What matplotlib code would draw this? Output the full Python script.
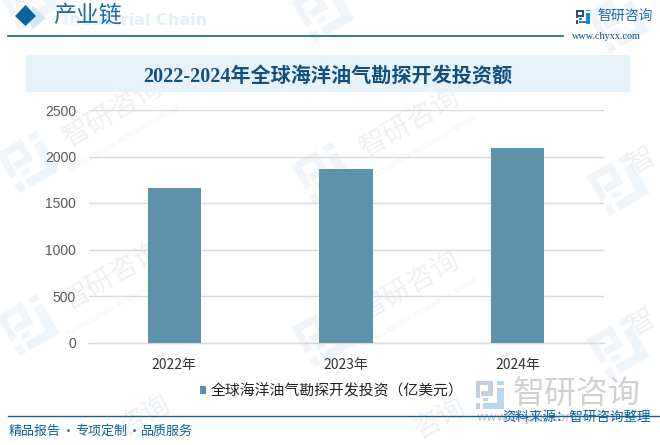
import matplotlib
matplotlib.use("Agg")
import matplotlib.pyplot as plt
from matplotlib.patches import Polygon, Rectangle
from matplotlib.transforms import Affine2D

CJK = ["Noto Sans CJK SC", "DejaVu Sans"]
SERIF = ["Liberation Serif", "Noto Sans CJK SC"]
SANS = ["Liberation Sans", "Noto Sans CJK SC"]
BLUE = "#0b629c"
DARK = "#14507e"

years = ["2022年", "2023年", "2024年"]
values = [1661, 1865, 2091]
yticks = [0, 500, 1000, 1500, 2000, 2500]
series_name = "全球海洋油气勘探开发投资（亿美元）"
title = "2022-2024年全球海洋油气勘探开发投资额"
W, H = 660, 445

plt.rcParams["font.family"] = CJK
fig = plt.figure(figsize=(W / 100, H / 100), dpi=100, facecolor="white")

# pixel overlay for header, footer and watermark
bg = fig.add_axes([0, 0, 1, 1], zorder=0)
bg.set_xlim(0, W); bg.set_ylim(H, 0); bg.axis("off")

# company mark in unit coords, (x, y, w, h)
MARK_A = [(0, 0, .62, .16), (.46, 0, .16, .52), (.2, .36, .42, .16), (0, 0, .16, .62), (0, .78, .16, .22)]
MARK_B = [(.78, 0, .22, .14), (.78, .24, .22, .76), (.26, .8, .74, .2), (.26, .6, .2, .12)]


def logo(cx, cy, s, col_a, col_b, rot=0, z=1):
    # rot in degrees, counter-clockwise on screen
    tr = Affine2D().rotate_deg_around(cx, cy, -rot) + bg.transData
    for parts, col in ((MARK_A, col_a), (MARK_B, col_b)):
        for x, y, w, h in parts:
            r = Rectangle((cx - s / 2 + x * s, cy - s / 2 + y * s), w * s, h * s, color=col, lw=0, zorder=z)
            r.set_transform(tr)
            bg.add_patch(r)


# watermark
WM = "#eff1f4"
for col in range(3):
    for row in range(-1, 3):
        logo(28 + col * 295, 162 + row * 163 + col * 11.5, 46, "#f1f4f8", "#eff6fb", rot=30)
for wx, wy in [(113, 112), (113, 275), (410, 122), (410, 285)]:
    bg.text(wx, wy, "智研咨询", fontsize=20, color=WM, rotation=30, ha="center", va="center", zorder=1)
    bg.text(wx + 12, wy + 27, "INTELLIGENCE RESEARCH GROUP", fontsize=5.5, color="#f2f3f5", family="Liberation Sans",
            rotation=30, ha="center", va="center", zorder=1)
for wx, wy, s in [(145, 415, "咨询"), (440, 418, "咨询"), (642, 160, "智"), (642, 322, "智")]:
    bg.text(wx, wy, s, fontsize=20, color=WM, rotation=30, ha="center", va="center", zorder=1)

# header
bg.add_patch(Polygon([(33, 6), (46, 18), (33, 29), (26, 18)], closed=True, color="#d5e6f2", lw=0, zorder=2))
bg.add_patch(Polygon([(15, 16), (25.5, 5), (36, 16), (25.5, 26)], closed=True, color=BLUE, lw=0, zorder=3))
bg.text(63, 20.5, "Industrial Chain", fontsize=11.5, fontweight="bold", color="#e3f0f9", family="DejaVu Sans",
        va="center", ha="left", zorder=2)
bg.text(53, 15.5, "产业链", fontsize=16.5, color="#1b6ca8", va="center", ha="left", zorder=3, fontweight="medium")
bg.plot([8, 563], [36, 36], color=BLUE, lw=1.2, zorder=3)
logo(582.5, 16.5, 14, "#2a4b8d", "#1c86cc", z=3)
bg.text(597, 15.5, "智研咨询", fontsize=10, color="#1b6ca8", va="center", ha="left", zorder=3)
bg.text(572, 36.5, "www.chyxx.com", fontsize=7.3, color=DARK, family=SERIF, va="center", ha="left", zorder=3)

# title band
bg.add_patch(Rectangle((26, 55), 604, 37, color="#e7f3fb", lw=0, zorder=2))
bg.text(328, 76.5, title, fontsize=14.5, fontweight="bold", color=DARK, family=SERIF,
        ha="center", va="center", zorder=3)

# footer
logo(489.5, 395, 28, "#c4cede", "#b9d8ec", z=2)
bg.text(513, 394, "智研咨询", fontsize=23, color="#d0d0d0", va="center", ha="left", zorder=2)
bg.text(476, 418, "www.chyxx.com", fontsize=9, color="#c4c4c4", family="DejaVu Sans", va="center", ha="left", zorder=2)
bg.plot([8, 660], [416, 416], color=BLUE, lw=1.0, zorder=3)
for fx, s in [(9, "精品报告"), (75, "专项定制"), (141, "品质服务")]:
    bg.text(fx, 431, s, fontsize=9.4, color=BLUE, va="center", ha="left", zorder=3)
for fx in [68, 134]:
    bg.text(fx, 431, "·", fontsize=9.4, color=BLUE, va="center", ha="center", zorder=3)
bg.text(651, 417, "资料来源：智研咨询整理", fontsize=9.7, color=BLUE, va="center", ha="right", zorder=3)

# chart
ax = fig.add_axes([88.5 / W, 1 - 342.5 / H, 515 / W, 232.5 / H], zorder=4)
ax.patch.set_alpha(0)
pos = list(range(len(years)))
ax.bar(pos, values, width=0.31, color="#5d92aa", label=series_name, zorder=3)
ax.set_xlim(-0.5, 2.5)
ax.set_ylim(0, 2500)
ax.set_yticks(yticks)
ax.set_xticks(pos, years)
ax.grid(axis="y", color="#d9d9d9", lw=1.0, zorder=0)
ax.tick_params(axis="both", length=0)
ax.tick_params(axis="y", labelsize=10, labelcolor="#595959", pad=9)
ax.tick_params(axis="x", labelsize=10, labelcolor="#333333", pad=11)
for lab in ax.get_yticklabels():
    lab.set_family(SANS)
for s in ["top", "right", "left"]:
    ax.spines[s].set_visible(False)
ax.spines["bottom"].set_color("#d9d9d9")
ax.spines["bottom"].set_linewidth(1.0)
leg = ax.legend(loc="center", bbox_to_anchor=(332 / W, 1 - 391 / H), bbox_transform=fig.transFigure,
                frameon=False, fontsize=10.7, handlelength=0.4, handleheight=0.4, handletextpad=0.3)
leg.get_texts()[0].set_color("#222222")

fig.savefig("out.png", dpi=100)
